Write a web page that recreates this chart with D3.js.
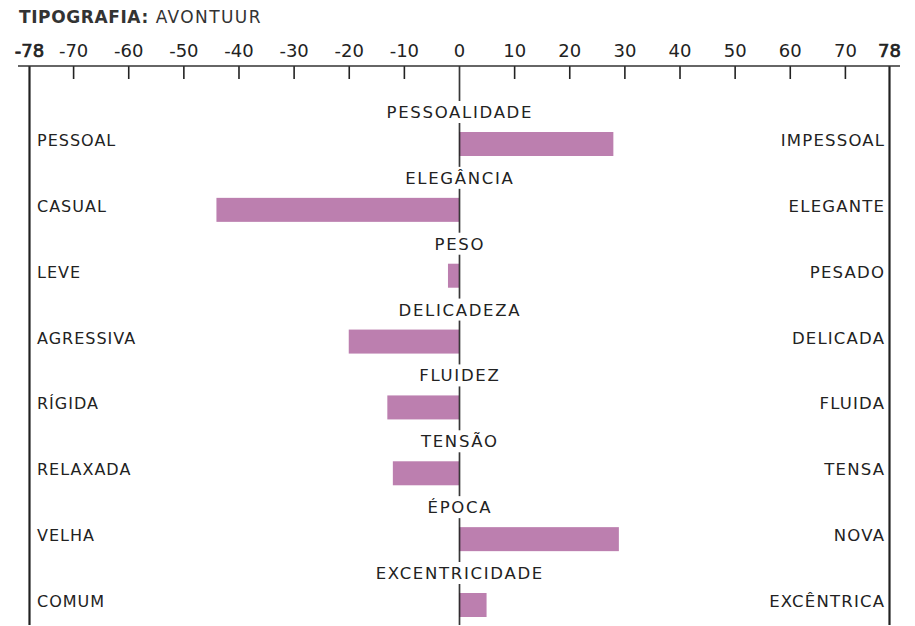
<!DOCTYPE html>
<html>
<head>
<meta charset="utf-8">
<script src="https://cdn.jsdelivr.net/npm/d3@7"></script>
<style>
  html, body { margin: 0; padding: 0; background: #fff; }
  svg { display: block; }
  text { font-family: "DejaVu Sans", sans-serif; fill: #222; }
</style>
</head>
<body>
<svg id="chart" width="915" height="626"></svg>
<script>
// ---- data ----
const categories = ["PESSOALIDADE", "ELEGÂNCIA", "PESO", "DELICADEZA", "FLUIDEZ", "TENSÃO", "ÉPOCA", "EXCENTRICIDADE"];
const leftLabels = ["PESSOAL", "CASUAL", "LEVE", "AGRESSIVA", "RÍGIDA", "RELAXADA", "VELHA", "COMUM"];
const rightLabels = ["IMPESSOAL", "ELEGANTE", "PESADO", "DELICADA", "FLUIDA", "TENSA", "NOVA", "EXCÊNTRICA"];
const values = [28, -44, -2, -20, -13, -12, 29, 5];
const tickValues = [-78, -70, -60, -50, -40, -30, -20, -10, 0, 10, 20, 30, 40, 50, 60, 70, 78];
const titleBold = "TIPOGRAFIA:";
const titleRegular = "AVONTUUR";

// ---- layout ----
const svg = d3.select("#chart");
const axisY = 66, bottom = 625;
const x = d3.scaleLinear().domain([-78, 78]).range([29, 889]);
const y = d3.scalePoint().domain(categories).range([144, 605]);
const barH = 24;
const barColor = "#bc7faf";

// title
const title = svg.append("text").attr("x", 19).attr("y", 23)
  .style("font-size", "17px").style("fill", "#333");
title.append("tspan").text(titleBold).style("font-weight", "bold").style("letter-spacing", "0.6px");
title.append("tspan").text(" " + titleRegular).style("letter-spacing", "1.4px");

// bars
svg.append("g").selectAll("rect").data(categories).join("rect")
  .attr("x", (d, i) => Math.min(x(0), x(values[i])))
  .attr("width", (d, i) => Math.abs(x(values[i]) - x(0)))
  .attr("y", d => y(d) - barH / 2)
  .attr("height", barH)
  .attr("fill", barColor);

// axis
const axis = d3.axisTop(x).tickValues(tickValues).tickSize(-13).tickPadding(9)
  .tickFormat(d => String(d));
const gAxis = svg.append("g").attr("transform", `translate(0,${axisY})`).call(axis);
gAxis.select(".domain").remove();
gAxis.append("line")
  .attr("x1", x.range()[0] - 11).attr("x2", x.range()[1] + 11)
  .attr("stroke", "#333").attr("stroke-width", 1.5);
gAxis.selectAll(".tick line").attr("stroke", "#222").attr("stroke-width", 1.6);
gAxis.selectAll(".tick text")
  .style("font-family", "DejaVu Sans, sans-serif")
  .style("font-size", "18px").attr("fill", "#222")
  .attr("stroke", d => (Math.abs(d) === 78 ? "#222" : "none"))
  .attr("stroke-width", 0.7);
// long frame lines at extremes and zero
gAxis.selectAll(".tick").filter(d => d === -78 || d === 78 || d === 0)
  .select("line")
  .attr("y2", bottom - axisY)
  .attr("stroke-width", d => (d === 0 ? 1.7 : 2.2))
  .attr("stroke-opacity", d => (d === 0 ? 0.9 : 1));
gAxis.raise();

// category labels with white backgrounds
const catLS = 1.7;
const catG = svg.append("g").selectAll("g").data(categories).join("g")
  .attr("transform", d => `translate(${x(0) + catLS / 2},${y(d) - 26})`);
catG.append("text")
  .attr("text-anchor", "middle")
  .style("font-size", "16.5px").style("letter-spacing", catLS + "px")
  .text(d => d);
catG.each(function () {
  const t = d3.select(this).select("text");
  const bb = t.node().getBBox();
  d3.select(this).insert("rect", "text")
    .attr("x", bb.x - 2).attr("y", -17)
    .attr("width", bb.width + 2).attr("height", 22)
    .attr("fill", "#fff");
});

// left and right labels
const sideLS = 1.2;
svg.append("g").selectAll("text").data(categories).join("text")
  .attr("x", x(-78) + 8).attr("y", d => y(d) + 2)
  .style("font-size", "16px").style("letter-spacing", "1px")
  .text((d, i) => leftLabels[i]);
svg.append("g").selectAll("text").data(categories).join("text")
  .attr("x", x(78) - 5 + sideLS).attr("y", d => y(d) + 2)
  .attr("text-anchor", "end")
  .style("font-size", "16.5px").style("letter-spacing", sideLS + "px")
  .text((d, i) => rightLabels[i]);
</script>
</body>
</html>
